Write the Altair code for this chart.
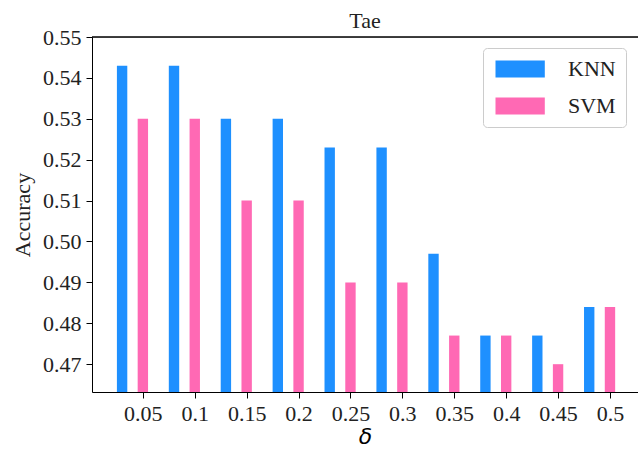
import altair as alt
import pandas as pd

deltas = [0.05, 0.1, 0.15, 0.2, 0.25, 0.3, 0.35, 0.4, 0.45, 0.5]
knn = [0.543, 0.543, 0.530, 0.530, 0.523, 0.523, 0.497, 0.477, 0.477, 0.484]
svm = [0.530, 0.530, 0.510, 0.510, 0.490, 0.490, 0.477, 0.477, 0.470, 0.484]
y_ticks = [0.47, 0.48, 0.49, 0.50, 0.51, 0.52, 0.53, 0.54, 0.55]

rows = []
for d, k, s in zip(deltas, knn, svm):
    rows.append({"delta": d, "model": "KNN", "acc": k, "off": -0.02})
    rows.append({"delta": d, "model": "SVM", "acc": s, "off": 0.0})
df = pd.DataFrame(rows)

SERIF = "Liberation Serif"
Y_MIN = 0.4632

xscale = alt.Scale(domain=[0.001, 0.527], nice=False, zero=False)
yscale = alt.Scale(domain=[Y_MIN, 0.55], nice=False, zero=False)

# rectangle legend swatch (about 49 x 17 px), left-anchored
symbol_path = "M-1,-1L4.8,-1L4.8,1L-1,1Z"

bars = alt.Chart(df).mark_bar(clip=True).transform_calculate(
    x0="datum.delta + datum.off - 0.005",
    x1="datum.delta + datum.off + 0.005",
).encode(
    x=alt.X("x0:Q", scale=xscale,
            axis=alt.Axis(values=deltas, format="~g", title="δ", grid=False,
                          domainColor="black", tickColor="black",
                          tickSize=6, labelPadding=5,
                          labelFont=SERIF, labelFontSize=22, labelColor="#222",
                          titleFont="DejaVu Sans", titleFontStyle="italic",
                          titleFontSize=22, titleFontWeight="normal",
                          titlePadding=2, titleColor="black")),
    x2="x1:Q",
    y=alt.Y("acc:Q", scale=yscale,
            axis=alt.Axis(values=y_ticks, format=".2f", title="Accuracy", grid=False,
                          domainColor="black", tickColor="black",
                          tickSize=6, labelPadding=5,
                          labelFont=SERIF, labelFontSize=22, labelColor="#222",
                          titleFont=SERIF, titleFontSize=22, titleFontWeight="normal",
                          titlePadding=8, titleColor="#222")),
    y2=alt.datum(Y_MIN),
    color=alt.Color("model:N",
                    scale=alt.Scale(domain=["KNN", "SVM"], range=["#1E90FF", "#FF69B4"]),
                    legend=alt.Legend(title=None, orient="none", legendX=391, legendY=11,
                                      symbolType=symbol_path, symbolSize=289,
                                      symbolStrokeWidth=0,
                                      labelFont=SERIF, labelFontSize=22, labelColor="#222",
                                      labelOffset=53, rowPadding=15,
                                      padding=10, strokeColor="#ccc",
                                      fillColor="white", cornerRadius=4)),
)

top = alt.Chart(pd.DataFrame({"v": [0.55]})).mark_rule(color="black", strokeWidth=1.5).encode(
    y=alt.Y("v:Q", scale=yscale)
)

chart = alt.layer(bars, top).properties(
    width=546, height=355,
    title=alt.TitleParams("Tae", font=SERIF, fontSize=22, fontWeight="normal",
                          color="#222", offset=9, dy=16, anchor="middle"),
    autosize=alt.AutoSizeParams(type="none"),
    padding={"left": 92, "top": 37, "right": 0, "bottom": 63},
).configure_view(stroke=None).configure(background="white")

chart.save("out.html", embed_options={"renderer": "svg", "actions": False})
